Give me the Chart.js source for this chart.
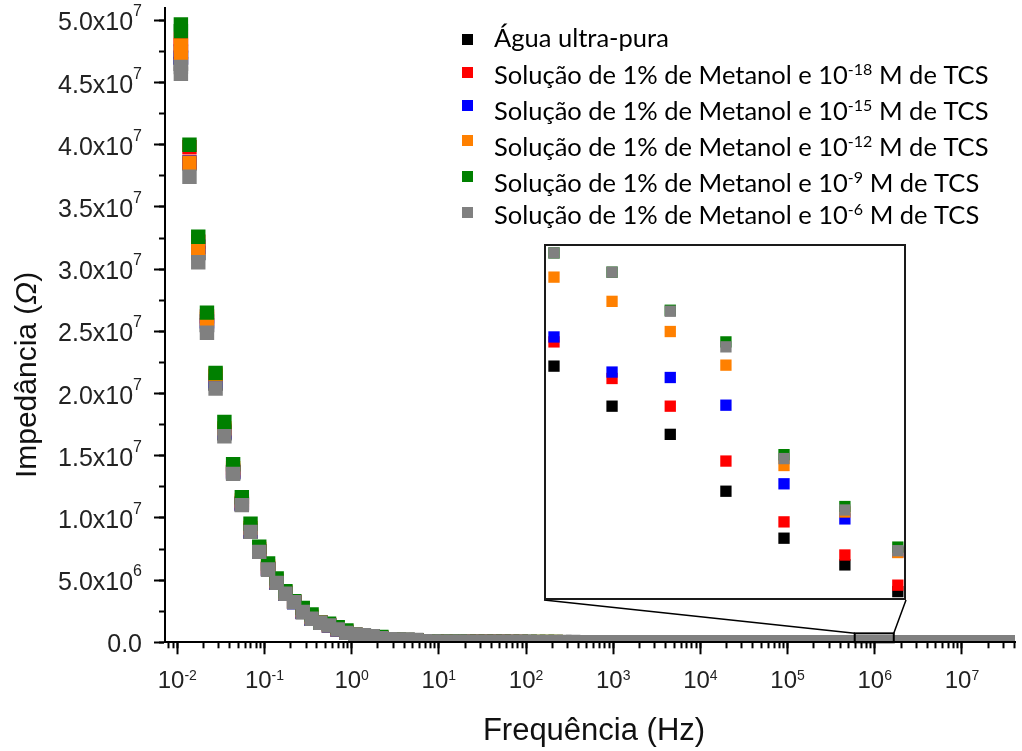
<!DOCTYPE html>
<html lang="pt">
<head>
<meta charset="utf-8">
<title>Impedância x Frequência</title>
<script src="https://cdn.jsdelivr.net/npm/chart.js@4.4.1/dist/chart.umd.min.js"></script>
<style>
  html, body { margin: 0; padding: 0; background: #fff; }
  #wrap { position: relative; width: 1022px; height: 751px; }
  #mainChart { position: absolute; left: 0; top: 0; }
  #insetChart { position: absolute; left: 544px; top: 244px; background: #fff; }
</style>
</head>
<body>
<div id="wrap">
  <canvas id="mainChart" width="1022" height="751"></canvas>
  <canvas id="insetChart" width="362" height="356"></canvas>
</div>
<script>
// ---- DATA (impedância em MΩ, frequência em Hz) ----
const freqHz = [
  0.011, 0.011, 0.0138, 0.0174, 0.0219, 0.0275, 0.0347, 0.0437, 0.055, 0.0692, 0.0871,
  0.11, 0.138, 0.174, 0.219, 0.275, 0.347, 0.437, 0.55, 0.692, 0.871,
  1.1, 1.38, 1.74, 2.19, 2.75, 3.47, 4.37, 5.5, 6.92, 8.71,
  11, 13.8, 17.4, 21.9, 27.5, 34.7, 43.7, 55, 69.2, 87.1,
  110, 138, 174, 219, 275, 347, 437, 550, 692, 871,
  1.1e3, 1.38e3, 1.74e3, 2.19e3, 2.75e3, 3.47e3, 4.37e3, 5.5e3, 6.92e3, 8.71e3,
  1.1e4, 1.38e4, 1.74e4, 2.19e4, 2.75e4, 3.47e4, 4.37e4, 5.5e4, 6.92e4, 8.71e4,
  1.1e5, 1.38e5, 1.74e5, 2.19e5, 2.75e5, 3.47e5, 4.37e5, 5.5e5, 6.92e5, 8.71e5,
  1.1e6, 1.38e6, 1.74e6, 2.19e6, 2.75e6, 3.47e6, 4.37e6, 5.5e6, 6.92e6, 8.71e6,
  1.1e7, 1.38e7, 1.74e7, 2.19e7, 2.75e7, 3.47e7
];

const aguaPura = [
  47.00, 46.50, 38.50, 31.30, 25.50, 20.80, 16.80, 13.65, 11.10, 8.90, 7.28,
  5.87, 4.79, 3.91, 3.24, 2.44, 1.89, 1.57, 1.35, 1.03, 0.76,
  0.57, 0.50, 0.43, 0.32, 0.20, 0.18, 0.16, 0.14, 0.060, 0.050,
  0.042, 0.036, 0.031, 0.027, 0.024, 0.022, 0.020, 0.018, 0.017, 0.016,
  0.015, 0.015, 0.014, 0.014, 0.013, 0.013, 0.012, 0.012, 0.011, 0.011,
  0.011, 0.010, 0.010, 0.010, 0.009, 0.009, 0.009, 0.009, 0.008, 0.008,
  0.008, 0.008, 0.007, 0.007, 0.007, 0.007, 0.007, 0.006, 0.006, 0.006,
  0.006, 0.006, 0.006, 0.005, 0.005, 0.005, 0.005, 0.005, 0.005, 0.005,
  0.004, 0.004, 0.004, 0.004, 0.004, 0.004, 0.004, 0.004, 0.003, 0.003,
  0.003, 0.003, 0.003, 0.003, 0.003, 0.003
];
const tcs18 = [
  48.50, 48.00, 39.80, 32.20, 26.20, 21.40, 17.00, 13.80, 11.20, 9.00, 7.35,
  5.95, 4.85, 3.95, 3.25, 2.50, 1.95, 1.59, 1.37, 1.05, 0.78,
  0.60, 0.52, 0.45, 0.34, 0.21, 0.19, 0.17, 0.15, 0.065, 0.054,
  0.046, 0.039, 0.034, 0.030, 0.026, 0.024, 0.022, 0.020, 0.019, 0.018,
  0.017, 0.016, 0.016, 0.015, 0.015, 0.014, 0.014, 0.013, 0.013, 0.012,
  0.012, 0.012, 0.011, 0.011, 0.011, 0.010, 0.010, 0.010, 0.010, 0.009,
  0.009, 0.009, 0.009, 0.008, 0.008, 0.008, 0.008, 0.008, 0.007, 0.007,
  0.007, 0.007, 0.007, 0.007, 0.006, 0.006, 0.006, 0.006, 0.006, 0.006,
  0.006, 0.005, 0.005, 0.005, 0.005, 0.005, 0.005, 0.005, 0.004, 0.004,
  0.004, 0.004, 0.004, 0.004, 0.003, 0.003
];
const tcs15 = [
  47.50, 47.00, 38.60, 31.80, 25.80, 21.00, 16.90, 13.70, 11.15, 8.95, 7.30,
  5.90, 4.80, 3.92, 3.24, 2.45, 1.90, 1.58, 1.36, 1.04, 0.77,
  0.58, 0.51, 0.44, 0.33, 0.22, 0.20, 0.18, 0.16, 0.068, 0.057,
  0.048, 0.041, 0.036, 0.031, 0.027, 0.025, 0.023, 0.021, 0.020, 0.019,
  0.018, 0.017, 0.017, 0.016, 0.016, 0.015, 0.015, 0.014, 0.014, 0.013,
  0.013, 0.013, 0.012, 0.012, 0.012, 0.011, 0.011, 0.011, 0.011, 0.010,
  0.010, 0.010, 0.010, 0.009, 0.009, 0.009, 0.009, 0.009, 0.008, 0.008,
  0.008, 0.008, 0.008, 0.008, 0.007, 0.007, 0.007, 0.007, 0.007, 0.007,
  0.007, 0.006, 0.006, 0.006, 0.006, 0.006, 0.006, 0.006, 0.005, 0.005,
  0.005, 0.005, 0.005, 0.005, 0.004, 0.004
];
const tcs12 = [
  47.98, 47.39, 38.55, 31.70, 26.00, 21.54, 17.20, 14.00, 11.40, 9.20, 7.50,
  6.10, 4.95, 4.00, 3.27, 2.60, 2.05, 1.60, 1.42, 1.12, 0.85,
  0.60, 0.53, 0.46, 0.36, 0.23, 0.21, 0.19, 0.17, 0.074, 0.060,
  0.051, 0.043, 0.037, 0.032, 0.028, 0.025, 0.023, 0.021, 0.020, 0.019,
  0.019, 0.019, 0.018, 0.018, 0.017, 0.017, 0.016, 0.016, 0.015, 0.015,
  0.014, 0.014, 0.014, 0.013, 0.013, 0.013, 0.012, 0.012, 0.012, 0.011,
  0.011, 0.011, 0.011, 0.010, 0.010, 0.010, 0.010, 0.010, 0.009, 0.009,
  0.009, 0.009, 0.009, 0.009, 0.008, 0.008, 0.008, 0.008, 0.008, 0.008,
  0.008, 0.007, 0.007, 0.007, 0.007, 0.007, 0.007, 0.007, 0.006, 0.006,
  0.006, 0.006, 0.006, 0.006, 0.005, 0.005
];
const tcs9 = [
  49.66, 49.13, 40.00, 32.60, 26.50, 21.65, 17.71, 14.31, 11.66, 9.53, 7.68,
  6.33, 5.13, 4.11, 3.31, 2.77, 2.24, 1.58, 1.49, 1.22, 0.95,
  0.62, 0.55, 0.48, 0.42, 0.24, 0.21, 0.19, 0.17, 0.076, 0.062,
  0.052, 0.044, 0.038, 0.033, 0.029, 0.026, 0.024, 0.022, 0.021, 0.020,
  0.019, 0.019, 0.018, 0.018, 0.017, 0.017, 0.016, 0.016, 0.015, 0.015,
  0.014, 0.014, 0.014, 0.013, 0.013, 0.013, 0.012, 0.012, 0.012, 0.011,
  0.011, 0.011, 0.011, 0.010, 0.010, 0.010, 0.010, 0.010, 0.009, 0.009,
  0.009, 0.009, 0.009, 0.009, 0.008, 0.008, 0.008, 0.008, 0.008, 0.008,
  0.008, 0.007, 0.007, 0.007, 0.007, 0.007, 0.007, 0.007, 0.006, 0.006,
  0.006, 0.006, 0.006, 0.006, 0.005, 0.005
];
const tcs6 = [
  46.25, 45.70, 37.42, 30.55, 24.88, 20.40, 16.57, 13.54, 11.03, 8.88, 7.27,
  5.85, 4.78, 3.90, 3.23, 2.43, 1.89, 1.57, 1.35, 1.03, 0.76,
  0.63, 0.56, 0.49, 0.33, 0.25, 0.22, 0.20, 0.18, 0.080, 0.065,
  0.055, 0.046, 0.040, 0.035, 0.030, 0.027, 0.025, 0.023, 0.022, 0.021,
  0.020, 0.020, 0.019, 0.019, 0.018, 0.018, 0.017, 0.017, 0.016, 0.016,
  0.015, 0.015, 0.015, 0.014, 0.014, 0.014, 0.013, 0.013, 0.013, 0.012,
  0.012, 0.012, 0.012, 0.011, 0.011, 0.011, 0.011, 0.011, 0.010, 0.010,
  0.010, 0.010, 0.010, 0.010, 0.009, 0.009, 0.009, 0.009, 0.009, 0.009,
  0.009, 0.008, 0.008, 0.008, 0.008, 0.008, 0.008, 0.008, 0.007, 0.007,
  0.007, 0.007, 0.007, 0.007, 0.006, 0.006
];

// inset (ampliação perto de 1 MHz)
const insetFreqHz = [6.06e5, 7.15e5, 8.44e5, 9.89e5, 1.167e6, 1.388e6, 1.614e6];
const insetAgua  = [0.473, 0.392, 0.335, 0.220, 0.125, 0.071, 0.017];
const insetTcs18 = [0.522, 0.448, 0.392, 0.281, 0.158, 0.091, 0.030];
const insetTcs15 = [0.532, 0.461, 0.450, 0.394, 0.235, 0.164, 0.097];
const insetTcs12 = [0.653, 0.604, 0.543, 0.475, 0.272, 0.178, 0.096];
const insetTcs9  = [0.702, 0.663, 0.586, 0.522, 0.294, 0.189, 0.107];
const insetTcs6  = [0.702, 0.663, 0.584, 0.512, 0.286, 0.182, 0.0997];
const insetXRange = [5.89e5, 1.652e6];
const insetYRange = [0, 0.72];

// tick labels
const yTickValues = [0, 5e6, 1e7, 1.5e7, 2e7, 2.5e7, 3e7, 3.5e7, 4e7, 4.5e7, 5e7];
const yTickMantissa = ['0.0', '5.0x10', '1.0x10', '1.5x10', '2.0x10', '2.5x10', '3.0x10', '3.5x10', '4.0x10', '4.5x10', '5.0x10'];
const yTickExp = ['', '6', '7', '7', '7', '7', '7', '7', '7', '7', '7'];
const xTickExp = ['-2', '-1', '0', '1', '2', '3', '4', '5', '6', '7'];

const seriesLabels = [
  { pre: 'Água ultra-pura', sup: '', post: '' },
  { pre: 'Solução de 1% de Metanol e 10', sup: '-18', post: ' M de TCS' },
  { pre: 'Solução de 1% de Metanol e 10', sup: '-15', post: ' M de TCS' },
  { pre: 'Solução de 1% de Metanol e 10', sup: '-12', post: ' M de TCS' },
  { pre: 'Solução de 1% de Metanol e 10', sup: '-9', post: ' M de TCS' },
  { pre: 'Solução de 1% de Metanol e 10', sup: '-6', post: ' M de TCS' }
];
const seriesColors = ['#000000', '#ff0000', '#0000ff', '#ff8000', '#008000', '#808080'];

// ---- LAYOUT ----
const SANS = '"Liberation Sans", Arial, sans-serif';
const LEG = 'Lato, "Noto Sans", sans-serif';
const xMin = 0.00723, xMax = 4.06e7;
const yMax = 5.1e7;
const insetBox = { left: 544, top: 244, right: 906, bottom: 600 };
const legendRows = [
  { sq: 39, base: 47 }, { sq: 72, base: 84 }, { sq: 105, base: 120 },
  { sq: 140, base: 156 }, { sq: 176, base: 192 }, { sq: 212, base: 224 }
];

const toPoints = (xs, ys) => xs.map((f, i) => ({ x: f, y: ys[i] * 1e6 }));

const mainSeries = [aguaPura, tcs18, tcs15, tcs12, tcs9, tcs6];
const insetSeries = [insetAgua, insetTcs18, insetTcs15, insetTcs12, insetTcs9, insetTcs6];

// minor / major tick positions
const yMinorTicks = [];
for (let v = 0; v <= 5e7; v += 2.5e6) yMinorTicks.push(v);
const xMajorTicks = xTickExp.map(e => Math.pow(10, Number(e)));
const xMinorTicks = [];
for (let e = -3; e <= 7; e++) {
  for (let m = 1; m <= 9; m++) {
    const v = m * Math.pow(10, e);
    if (v >= xMin && v <= xMax) xMinorTicks.push(v);
  }
}

function textRun(ctx, segs, x, y, align) {
  let total = 0;
  segs.forEach(s => { ctx.font = s.font; s.w = s.t ? ctx.measureText(s.t).width : 0; total += s.w; });
  let cx = align === 'right' ? x - total : (align === 'center' ? x - total / 2 : x);
  ctx.textAlign = 'left';
  ctx.textBaseline = 'alphabetic';
  segs.forEach(s => {
    if (s.t) { ctx.font = s.font; ctx.fillText(s.t, cx, y - (s.rise || 0)); }
    cx += s.w;
  });
  return total;
}

function tickAxis(axis, position, ticks, len) {
  return {
    type: axis === 'x' ? 'logarithmic' : 'linear',
    axis: axis,
    position: position,
    min: axis === 'x' ? xMin : 0,
    max: axis === 'x' ? xMax : yMax,
    afterBuildTicks: s => { s.ticks = ticks.map(v => ({ value: v })); },
    afterFit: s => { if (axis === 'x') s.height = 0; else s.width = 0; },
    ticks: { display: false },
    grid: { display: true, drawOnChartArea: false, drawTicks: true, tickLength: len, tickWidth: 2, tickColor: '#000', z: 1 },
    border: { display: true, color: '#000', width: 2, z: 1 }
  };
}

const mainDecor = {
  id: 'mainDecor',
  afterDatasetsDraw(chart) {
    const ctx = chart.ctx;
    const xs = chart.scales.x, ys = chart.scales.y;
    const x1 = xs.getPixelForValue(insetXRange[0]);
    const x2 = xs.getPixelForValue(insetXRange[1]);
    const y1 = ys.getPixelForValue(insetYRange[1] * 1e6);
    const y2 = ys.getPixelForValue(insetYRange[0] * 1e6);
    ctx.save();
    ctx.strokeStyle = '#000';
    ctx.lineWidth = 2;
    ctx.strokeRect(x1, y1, x2 - x1, y2 - y1);
    ctx.lineWidth = 1.5;
    ctx.beginPath();
    ctx.moveTo(insetBox.left, insetBox.bottom);
    ctx.lineTo(x1, y1);
    ctx.moveTo(insetBox.right, insetBox.bottom);
    ctx.lineTo(x2, y1);
    ctx.stroke();
    ctx.restore();
  },
  afterDraw(chart) {
    const ctx = chart.ctx;
    const xs = chart.scales.x, ys = chart.scales.y;
    ctx.save();
    ctx.fillStyle = '#222';
    // y tick labels
    yTickValues.forEach((v, i) => {
      const py = ys.getPixelForValue(v);
      textRun(ctx, [
        { t: yTickMantissa[i], font: '25px ' + SANS },
        { t: yTickExp[i], font: '16px ' + SANS, rise: 14 }
      ], 142, py + 10, 'right');
    });
    // x tick labels
    xTickExp.forEach((e, i) => {
      const px = xs.getPixelForValue(xMajorTicks[i]);
      textRun(ctx, [
        { t: '10', font: '24px ' + SANS },
        { t: e, font: '14px ' + SANS, rise: 8 }
      ], px, 688, 'center');
    });
    // axis titles
    ctx.fillStyle = '#111';
    textRun(ctx, [{ t: 'Frequência (Hz)', font: '31px ' + SANS }], 594, 740, 'center');
    ctx.save();
    ctx.translate(36, 375);
    ctx.rotate(-Math.PI / 2);
    textRun(ctx, [
      { t: 'Impedância (', font: '30px ' + SANS },
      { t: 'Ω', font: 'italic 30px ' + SANS },
      { t: ')', font: '30px ' + SANS }
    ], 0, 0, 'center');
    ctx.restore();
    // legend
    seriesLabels.forEach((lab, i) => {
      const r = legendRows[i];
      ctx.fillStyle = seriesColors[i];
      ctx.fillRect(462, r.sq - 5, 11, 11);
      ctx.fillStyle = '#000';
      textRun(ctx, [
        { t: lab.pre, font: '25.5px ' + LEG },
        { t: lab.sup, font: '16px ' + LEG, rise: 9 },
        { t: lab.post, font: '25.5px ' + LEG }
      ], 494, r.base, 'left');
    });
    ctx.restore();
  }
};

// order: black drawn first, gray on top
const mainDatasets = mainSeries.map((s, i) => ({
  label: seriesLabels[i].pre + seriesLabels[i].sup + seriesLabels[i].post,
  data: toPoints(freqHz, s),
  pointStyle: 'rect',
  pointRadius: 10.2,
  pointBorderWidth: 0,
  pointBackgroundColor: seriesColors[i],
  backgroundColor: seriesColors[i],
  showLine: false,
  order: 6 - i,
  clip: { left: 30, top: 30, right: 0, bottom: 0 }
}));

new Chart(document.getElementById('mainChart').getContext('2d'), {
  type: 'scatter',
  data: { datasets: mainDatasets },
  options: {
    responsive: false,
    animation: false,
    devicePixelRatio: 1,
    events: [],
    layout: { autoPadding: false, padding: { left: 165, right: 7, top: 7.9, bottom: 108.7 } },
    plugins: { legend: { display: false }, tooltip: { enabled: false } },
    scales: {
      x: tickAxis('x', 'bottom', xMinorTicks, 6),
      xMajor: tickAxis('x', 'bottom', xMajorTicks, 12),
      y: tickAxis('y', 'left', yMinorTicks, 6),
      yMajor: tickAxis('y', 'left', yTickValues, 11)
    }
  },
  plugins: [mainDecor]
});

// ---- INSET ----
const insetFrame = {
  id: 'insetFrame',
  afterDraw(chart) {
    const ctx = chart.ctx;
    ctx.save();
    ctx.strokeStyle = '#1a1a1a';
    ctx.lineWidth = 2;
    ctx.strokeRect(1, 1, chart.width - 2, chart.height - 2);
    ctx.restore();
  }
};

new Chart(document.getElementById('insetChart').getContext('2d'), {
  type: 'scatter',
  data: {
    datasets: insetSeries.map((s, i) => ({
      label: seriesLabels[i].pre,
      data: toPoints(insetFreqHz, s),
      pointStyle: 'rect',
      pointRadius: 8,
      pointBorderWidth: 0,
      pointBackgroundColor: seriesColors[i],
      showLine: false,
      order: 6 - i,
      clip: false
    }))
  },
  options: {
    responsive: false,
    animation: false,
    devicePixelRatio: 1,
    events: [],
    layout: { autoPadding: false, padding: 0 },
    plugins: { legend: { display: false }, tooltip: { enabled: false } },
    scales: {
      x: { type: 'logarithmic', display: false, min: insetXRange[0], max: insetXRange[1] },
      y: { type: 'linear', display: false, min: insetYRange[0] * 1e6, max: insetYRange[1] * 1e6 }
    }
  },
  plugins: [insetFrame]
});
</script>
</body>
</html>
